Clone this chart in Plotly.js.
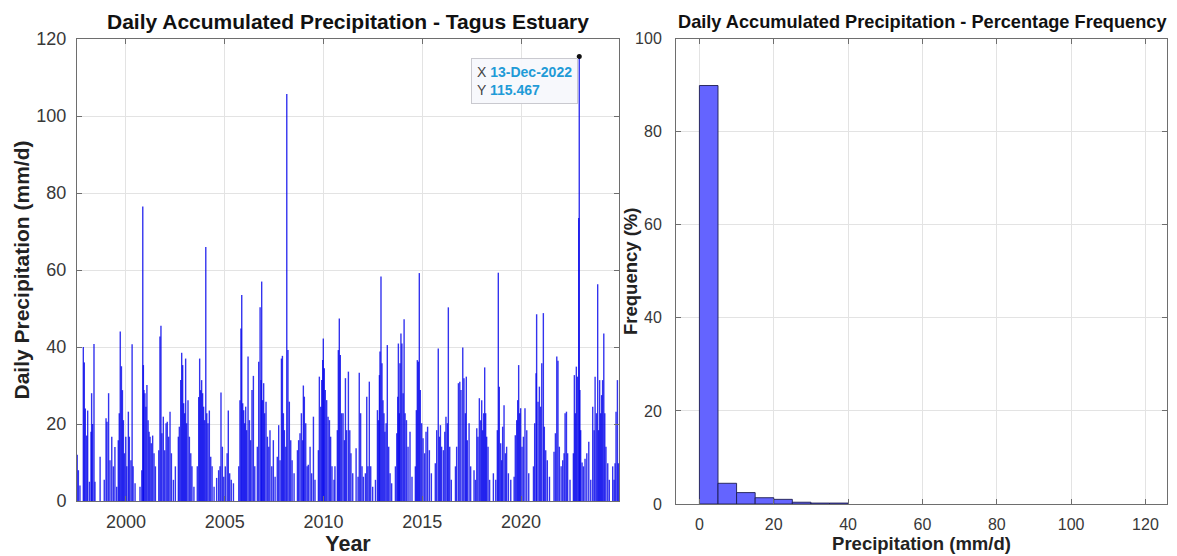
<!DOCTYPE html>
<html><head><meta charset="utf-8">
<script src="https://cdn.plot.ly/plotly-3.0.1.min.js"></script>
<style>html,body{margin:0;padding:0;background:#fff}#chart{width:1177px;height:556px}</style>
</head><body><div id="chart"></div>
<script>
// Daily precipitation peaks (decimal year, mm/d)
const spikeYears = [
1997.53,1997.59,1997.67,1997.84,1997.89,1997.94,1998.01,1998.06,1998.15,1998.23,1998.26,1998.31,1998.38,1998.43,
1998.69,1998.90,1998.99,1999.04,1999.12,1999.19,1999.28,1999.36,1999.44,1999.53,1999.61,1999.66,1999.71,1999.77,1999.82,1999.87,1999.92,1999.99,2000.04,2000.12,2000.17,2000.25,2000.31,2000.36,2000.46,
2000.71,2000.80,2000.85,2000.88,2000.91,2000.96,2001.01,2001.06,2001.12,2001.17,2001.22,2001.28,2001.35,2001.42,2001.49,
2001.66,2001.72,2001.77,2001.82,2001.89,2001.96,2002.03,2002.09,2002.16,2002.23,2002.30,2002.40,2002.50,
2002.65,2002.70,2002.77,2002.82,2002.87,2002.92,2002.97,2003.02,2003.07,2003.14,2003.21,2003.28,2003.34,2003.44,
2003.61,2003.68,2003.73,2003.78,2003.83,2003.88,2003.93,2003.98,2004.04,2004.09,2004.15,2004.22,2004.29,2004.36,2004.46,
2004.59,2004.69,2004.76,2004.81,2004.88,2004.95,2005.03,2005.12,2005.18,2005.25,2005.33,2005.44,
2005.71,2005.77,2005.82,2005.86,2005.91,2005.96,2006.01,2006.06,2006.11,2006.18,2006.25,2006.31,2006.38,2006.45,2006.52,
2006.65,2006.72,2006.79,2006.84,2006.87,2006.92,2006.97,2007.02,2007.09,2007.16,2007.23,2007.29,2007.38,2007.46,2007.55,
2007.66,2007.73,2007.80,2007.87,2007.92,2007.97,2008.02,2008.09,2008.14,2008.20,2008.27,2008.34,2008.41,2008.51,
2008.68,2008.74,2008.81,2008.88,2008.95,2008.98,2009.03,2009.10,2009.17,2009.23,2009.32,2009.40,2009.49,2009.57,
2009.74,2009.79,2009.86,2009.91,2009.96,2009.99,2010.04,2010.09,2010.16,2010.23,2010.30,2010.36,2010.43,2010.53,
2010.58,2010.70,2010.75,2010.80,2010.85,2010.92,2010.99,2011.06,2011.11,2011.17,2011.26,2011.33,2011.39,2011.48,
2011.65,2011.75,2011.81,2011.88,2011.95,2012.02,2012.12,2012.19,2012.25,2012.32,2012.39,2012.49,
2012.63,2012.73,2012.78,2012.83,2012.86,2012.91,2012.96,2013.01,2013.06,2013.11,2013.17,2013.23,2013.30,2013.37,2013.45,
2013.64,2013.71,2013.76,2013.79,2013.84,2013.87,2013.92,2013.97,2014.03,2014.08,2014.13,2014.20,2014.28,2014.38,2014.48,
2014.65,2014.70,2014.75,2014.80,2014.85,2014.90,2014.97,2015.04,2015.12,2015.19,2015.27,2015.36,2015.46,
2015.66,2015.73,2015.81,2015.87,2015.92,2015.98,2016.07,2016.14,2016.20,2016.27,2016.32,2016.39,2016.47,
2016.68,2016.74,2016.83,2016.90,2016.96,2017.05,2017.11,2017.18,2017.23,2017.28,2017.37,2017.45,
2017.62,2017.69,2017.76,2017.82,2017.89,2017.96,2018.01,2018.06,2018.11,2018.16,2018.21,2018.26,2018.33,2018.41,
2018.60,2018.72,2018.80,2018.85,2018.90,2018.97,2019.02,2019.07,2019.14,2019.21,2019.27,2019.36,2019.48,
2019.65,2019.71,2019.78,2019.83,2019.88,2019.93,2019.98,2020.05,2020.12,2020.20,2020.29,2020.39,
2020.63,2020.69,2020.76,2020.79,2020.86,2020.93,2020.99,2021.05,2021.13,2021.18,2021.25,2021.33,2021.44,
2021.67,2021.74,2021.81,2021.87,2021.94,2022.03,2022.11,2022.18,2022.23,2022.30,2022.36,2022.48,
2022.65,2022.70,2022.75,2022.80,2022.85,2022.92,2022.948,2022.98,2023.02,2023.09,2023.16,2023.24,2023.33,2023.43,2023.53,
2023.63,2023.70,2023.75,2023.82,2023.88,2023.93,2023.98,2024.03,2024.08,2024.13,2024.19,2024.24,2024.30,2024.39,2024.47,
2024.64,2024.71,2024.76,2024.81,2024.88,2024.93
];
const spikeValues = [
12,8,4,40,36,24,17,23.5,5,18,28,20,40.8,5,
11.5,5.5,21.5,20.6,28,10.6,16.7,9,14,3.7,15.8,22.8,44,35,28.8,21,12.4,16.7,9,23.2,16.7,10.6,40.7,9,4.6,
3.7,8,76.5,35.3,28.8,28,24.5,30.1,21,18,16.7,15,17,12.4,9,
13.2,42.7,45.5,17.6,21.9,13.2,20.2,20.6,16.7,23.2,12.4,5.5,9,
16.7,19.3,31.4,38.5,35.3,25.4,22.8,37,20.2,26.2,16.7,12.4,9,3.7,
9,27,37,28.8,31.4,28,24.5,21,66,22.8,20.2,23.5,11.5,9,3.7,
6,8,9,28.2,14.1,6.3,9,12.4,23.5,7.2,5.5,4.6,
9,26.2,44.8,53.5,25.4,23.6,20.2,24.5,18.4,37.5,21,15.8,28.8,32.5,9,
14.1,36.2,50.3,31.4,57,26.2,30.6,22.8,25.8,16.7,14.1,18.4,9,15.8,6.3,
11.5,19.7,10.6,37,37.7,22.8,18.4,14.1,105.7,39.2,25.8,15.8,10.6,7.2,
13.2,15.8,17.6,22.8,15.8,30,27.1,20.2,9,9.4,14.1,7.2,21.9,5.5,
13.2,32.3,24.5,31.4,36.6,42.2,34.5,28.8,26.2,21.9,21,16.7,9,5.5,
9,18.4,39.2,47.4,37.9,22.8,22.8,15.8,31.9,18.4,33.6,18.4,12.4,7.2,
13.7,6.3,33.3,22.8,9,6.3,7.2,27.1,9,31,9,3.7,
5.5,23.6,21,32.7,38.8,58.3,35.8,26.2,22.8,18,20.2,40.5,14.1,7.2,4.6,
9,17.6,27.1,40.9,22.8,35.8,43.5,40.9,28,47.2,22.8,21,14.1,18,6.3,
9,23.6,36.6,36.2,59.2,28.8,20.2,16.3,12.4,18,19.3,13.2,7.2,
9.8,18.4,39.6,16.7,19.7,14.1,13.2,18,21.9,20.2,50.3,14.1,5.5,
9,14.1,30.6,31,28.8,39.9,31.9,22.8,32.3,15.8,20.2,9,
8,5.5,18.9,16.7,26.7,21,26.2,18.4,22.8,34.7,22.8,16.7,14.1,5.5,
7.2,5.5,18.4,59.3,29.7,15,10.6,19.3,24.9,12.4,14.1,7.2,5.5,
6.3,17.1,21,26.2,35.3,22.8,24.1,14.1,16.7,24.1,18.4,7.2,
9,20.2,33.2,48.5,25.8,29.7,24.5,35.8,48.8,19.3,13.2,10.6,6.3,
12.8,17.6,37.5,36.4,14.1,9,10.6,12.4,22.8,23.2,12.4,5.5,
12.4,32.7,22.8,34.9,32.3,73.5,115.467,28.8,18.4,10,9,11,12.4,15.4,5.5,
24.5,18.4,32.3,22.8,56.3,18.4,31.4,22.8,27.5,31.4,43.5,22.8,14.1,9.8,5.5,
9,5.5,9.8,23.2,31.4,9.8
];
const peakDateLabel = '13-Dec-2022';
const yearTicks = [2000, 2005, 2010, 2015, 2020];
const precipTicks = [0, 20, 40, 60, 80, 100, 120];

// Histogram (5 mm/d bins)
const binCenters = [2.5, 7.5, 12.5, 17.5, 22.5, 27.5, 32.5, 37.5];
const binFrequency = [89.9, 4.45, 2.45, 1.35, 1.0, 0.38, 0.2, 0.2];
const histXTicks = [0, 20, 40, 60, 80, 100, 120];
const freqTicks = [0, 20, 40, 60, 80, 100];

const W = 1177, H = 556;
const lx = [], ly = [];
spikeYears.forEach((t, i) => { lx.push(t, t, null); ly.push(0, spikeValues[i], null); });
const pk = spikeValues.indexOf(Math.max(...spikeValues));

const FONT = 'Arial, "Liberation Sans", Helvetica, sans-serif';
const axisCommon = {
  showgrid: true, gridcolor: '#e3e3e3', gridwidth: 1, zeroline: false,
  showline: true, linecolor: '#6e6e6e', linewidth: 1, mirror: 'ticks',
  ticks: 'inside', ticklen: 5, tickcolor: '#6e6e6e', automargin: false
};

const traces = [
  { type: 'scatter', mode: 'lines', x: lx, y: ly, xaxis: 'x', yaxis: 'y',
    line: { color: 'rgba(0,0,235,0.8)', width: 1.4 }, hoverinfo: 'skip' },
  { type: 'scatter', mode: 'markers', x: [spikeYears[pk]], y: [spikeValues[pk]], xaxis: 'x', yaxis: 'y',
    marker: { color: '#111', size: 5 }, hoverinfo: 'skip', cliponaxis: false },
  { type: 'bar', x: binCenters, y: binFrequency, width: binCenters.map(() => 5), xaxis: 'x2', yaxis: 'y2',
    marker: { color: '#6464ff', line: { color: '#1c1c50', width: 0.9 } }, hoverinfo: 'skip' }
];

const layout = {
  width: W, height: H, margin: { l: 0, r: 0, t: 0, b: 0 },
  paper_bgcolor: '#fff', plot_bgcolor: '#fff', showlegend: false,
  font: { family: FONT, color: '#333' },
  xaxis: Object.assign({}, axisCommon, {
    domain: [77 / W, 619 / W], range: [1997.52, 2024.96], anchor: 'y',
    tickvals: yearTicks, ticktext: yearTicks.map(String),
    tickfont: { size: 18, color: '#383838' }, ticklabelstandoff: 4,
    title: { text: '<b>Year</b>', font: { size: 21.5, color: '#222' }, standoff: 4 }
  }),
  yaxis: Object.assign({}, axisCommon, {
    domain: [1 - 501 / H, 1 - 39 / H], range: [0, 120], anchor: 'x',
    tickvals: precipTicks, tickfont: { size: 18, color: '#383838' }, ticklabelstandoff: 6,
    title: { text: '<b>Daily Precipitation (mm/d)</b>', font: { size: 21, color: '#222' }, standoff: 1 }
  }),
  xaxis2: Object.assign({}, axisCommon, {
    domain: [676 / W, 1167 / W], range: [-6.3, 125.8], anchor: 'y2',
    tickvals: histXTicks, tickfont: { size: 16, color: '#383838' }, ticklabelstandoff: 6,
    title: { text: '<b>Precipitation (mm/d)</b>', font: { size: 18.5, color: '#222' }, standoff: 4 }
  }),
  yaxis2: Object.assign({}, axisCommon, {
    domain: [1 - 504 / H, 1 - 38.5 / H], range: [0, 100], anchor: 'x2',
    tickvals: freqTicks, tickfont: { size: 16, color: '#383838' }, ticklabelstandoff: 10
  }),
  annotations: [
    { xref: 'paper', yref: 'paper', x: 348 / W, y: 1 - 22 / H, xanchor: 'center', yanchor: 'middle',
      showarrow: false, text: '<b>Daily Accumulated Precipitation - Tagus Estuary</b>',
      font: { size: 21, color: '#111' } },
    { xref: 'paper', yref: 'paper', x: 922 / W, y: 1 - 22 / H, xanchor: 'center', yanchor: 'middle',
      showarrow: false, text: '<b>Daily Accumulated Precipitation - Percentage Frequency</b>',
      font: { size: 18.2, color: '#111' } },
    { xref: 'paper', yref: 'paper', x: 630 / W, y: 1 - 272 / H, xanchor: 'center', yanchor: 'middle',
      showarrow: false, textangle: -90, text: '<b>Frequency (%)</b>',
      font: { size: 18.5, color: '#222' } },
    { xref: 'x', yref: 'y', x: spikeYears[pk], y: spikeValues[pk], xanchor: 'right', yanchor: 'top',
      xshift: -1, yshift: -2, showarrow: false, align: 'left',
      bgcolor: 'rgba(247,248,252,0.97)', bordercolor: '#c9c9cf', borderwidth: 1, borderpad: 5,
      font: { size: 14, color: '#444' },
      text: 'X <b><span style="color:#1f9bd7">' + peakDateLabel + '</span></b><br>Y <b><span style="color:#1f9bd7">' +
            spikeValues[pk].toFixed(3) + '</span></b>' }
  ]
};

Plotly.newPlot('chart', traces, layout, { displayModeBar: false, staticPlot: true });
</script></body></html>
